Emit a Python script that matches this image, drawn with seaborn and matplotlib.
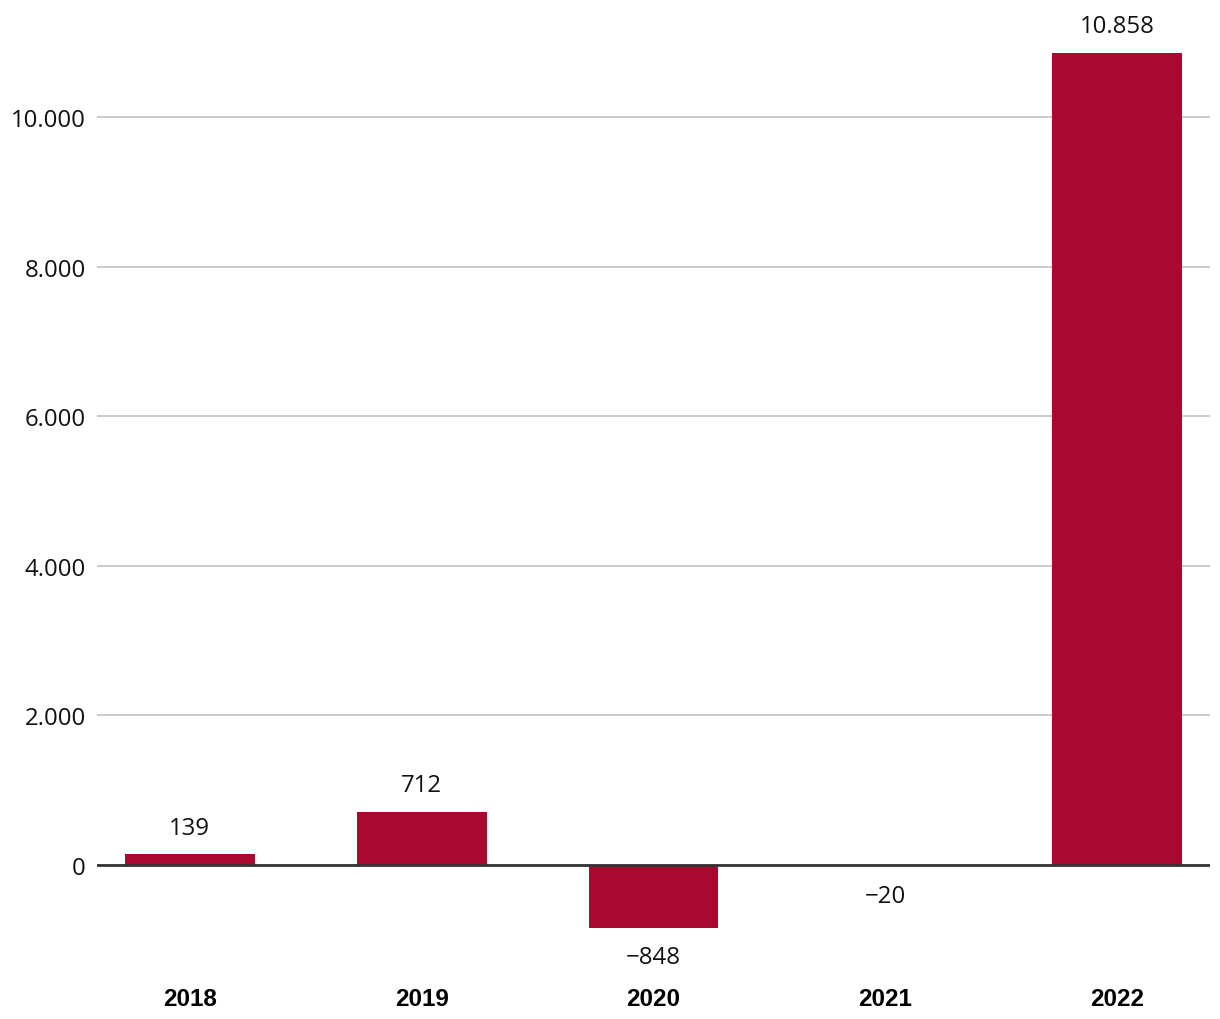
import matplotlib

matplotlib.use('Agg')

import pandas as pd
import matplotlib.pyplot as plt
import seaborn as sns
from matplotlib.ticker import FuncFormatter

years = ['2018', '2019', '2020', '2021', '2022']
values = [139, 712, -848, -20, 10858]
ytick_values = [0, 2000, 4000, 6000, 8000, 10000]
bar_color = '#A80A2F'


def de_format(v, pos=None):
    s = '{:,.0f}'.format(abs(v)).replace(',', '.')
    return ('\u2212' + s) if v < 0 else s


df = pd.DataFrame({'year': years, 'value': values})

sns.set_theme(style='white')
plt.rcParams['font.family'] = ['Open Sans', 'DejaVu Sans']

fig = plt.figure(figsize=(12.2, 10.2), dpi=100)
ax = fig.add_axes([97 / 1220, (1020 - 978) / 1020, (1210 - 97) / 1220, (978 - 6) / 1020])

sns.barplot(data=df, x='year', y='value', color=bar_color, saturation=1, width=0.56,
            linewidth=0, ax=ax, zorder=3)

ax.set_xlim(-0.4, 4.4)
ax.set_ylim(-1500, 11500)
ax.set_yticks(ytick_values)
ax.yaxis.set_major_formatter(FuncFormatter(de_format))
ax.yaxis.grid(True, color='#bdbdbd', linewidth=1.1, zorder=0)
ax.axhline(0, color='#333333', linewidth=2, zorder=4)

for s in ax.spines.values():
    s.set_visible(False)

ax.set_xlabel('')
ax.set_ylabel('')
ax.tick_params(axis='y', length=0, pad=8, labelsize=17.3, labelcolor='#111111')
ax.tick_params(axis='x', length=0, pad=7)
for lbl in ax.get_xticklabels():
    lbl.set_fontfamily('Liberation Sans')
    lbl.set_fontweight('bold')
    lbl.set_fontsize(17.5)
    lbl.set_color('#000000')

for i, v in enumerate(values):
    off = 19.4 if v >= 0 else -21
    ax.annotate(de_format(v), xy=(i, v), xytext=(0, off), textcoords='offset points',
                ha='center', va='center', fontsize=17.3, color='#111111')

fig.savefig('out.png', dpi=100)
